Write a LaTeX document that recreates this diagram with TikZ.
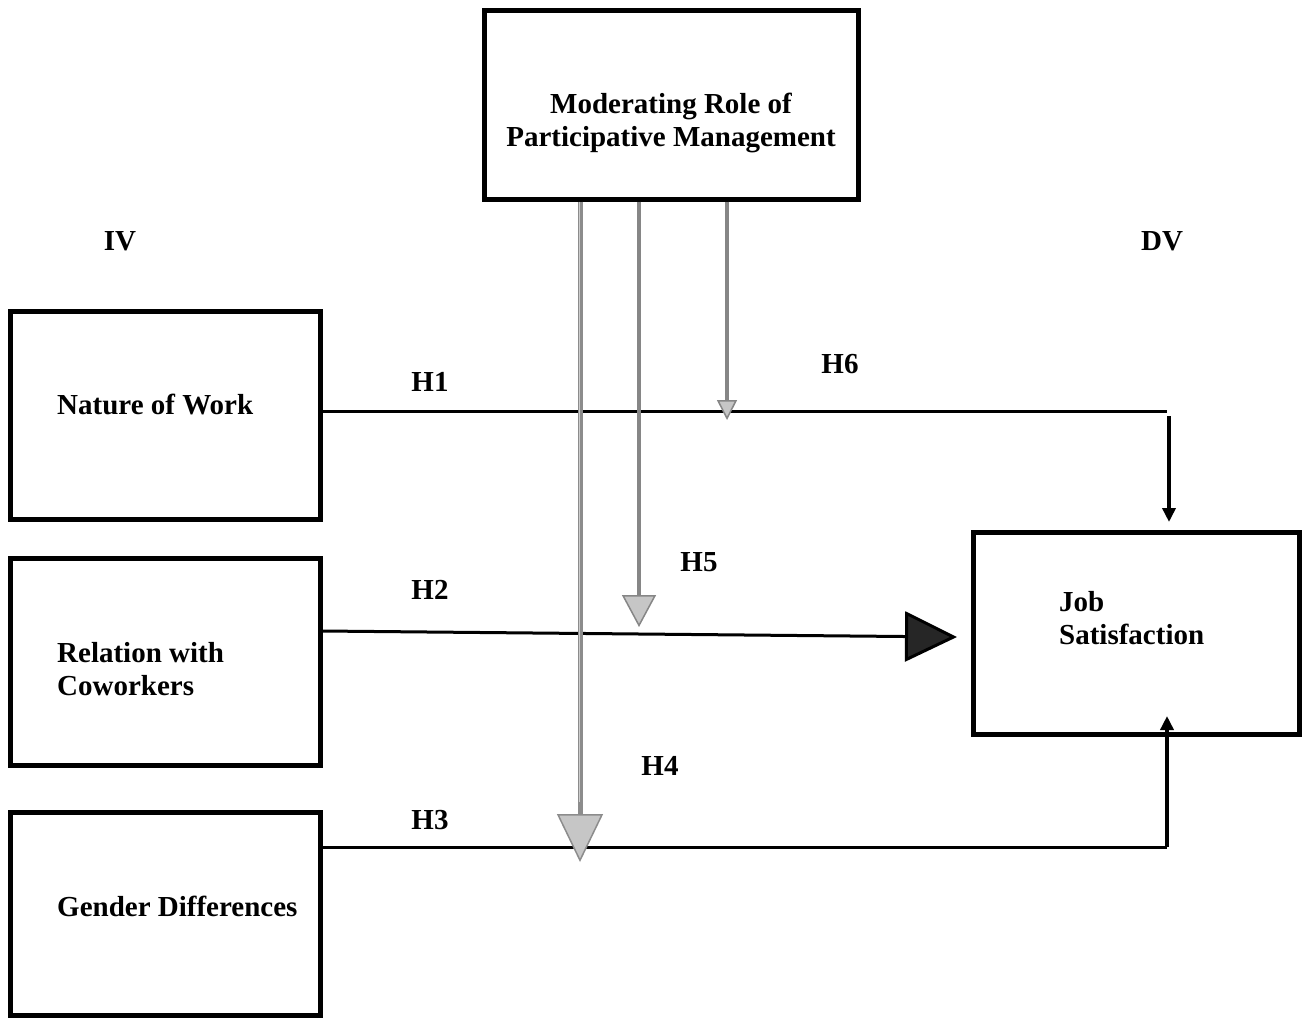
\documentclass[tikz,border=0pt]{standalone}
\usepackage{fontspec}
\setmainfont{Liberation Serif}
\usetikzlibrary{arrows.meta}
\begin{document}
\begin{tikzpicture}[x=1pt,y=-1pt,
  box/.style={draw=black,line width=5pt,inner sep=0pt},
  lbl/.style={font=\fontsize{29}{33}\selectfont\bfseries,inner sep=0pt,align=left},
  hyp/.style={line width=3pt,draw=black},
  modarrow/.style={draw=gray!110!black!60,line width=4pt},
  ]
\useasboundingbox (0,0) rectangle (1303,1018);
% boxes
\node[box,minimum width=374pt,minimum height=189pt] (mod) at (671,104.5) {};
\node[box,minimum width=310pt,minimum height=208pt] (now) at (165,415) {};
\node[box,minimum width=310pt,minimum height=207pt] (rel) at (165,661.5) {};
\node[box,minimum width=310pt,minimum height=203pt] (gen) at (165,913.5) {};
\node[box,minimum width=326pt,minimum height=202pt] (job) at (1136.5,633) {};
% box texts
\node[lbl,align=center] (modt) at (671,123) {Moderating Role of\\Participative Management};
\node[lbl,anchor=west] (nowt) at (57,405) {Nature of Work};
\node[lbl,anchor=west] (relt) at (57,669) {Relation with\\Coworkers};
\node[lbl,anchor=west] (gent) at (57,906) {Gender Differences};
\node[lbl,anchor=west] (jobt) at (1059,618) {Job\\Satisfaction};
% IV / DV
\node[lbl] (iv) at (120,241) {IV};
\node[lbl] (dv) at (1162,241) {DV};
% hypothesis labels
\node[lbl] (h1) at (430,382) {H1};
\node[lbl] (h2) at (430,590) {H2};
\node[lbl] (h3) at (430,820) {H3};
\node[lbl] (h4) at (660,766) {H4};
\node[lbl] (h5) at (699,562) {H5};
\node[lbl] (h6) at (840,364) {H6};
% coordinates
\coordinate (c1) at (1167,411);
\coordinate (c3) at (1167,847);
\coordinate (t4) at (580,862);
\coordinate (t5) at (639,627);
\coordinate (t6) at (727,420);
% H1
\draw[hyp] (now.east |- 0,411) -- (c1);
\draw[line width=4.5pt,-{Triangle[length=14pt,width=13pt]}] (1169,416) -- (1169,522);
% H2
\draw[hyp,-{Triangle[length=52pt,width=50pt,fill=black!85]}] (rel.east |- 0,631) -- (957,637);
% H3
\draw[hyp] (gen.east |- 0,847) -- (c3);
\draw[line width=4.5pt,-{Triangle[length=14pt,width=13pt]}] (c3) -- (1167,716);
% moderating arrows
\draw[draw=gray!90,line width=5pt,-{Triangle[length=48pt,width=46pt,fill=gray!45,line width=1.5pt]}] (mod.south -| t4) -- (t4);
\draw[draw=gray!40,line width=1pt] (mod.south -| t4) ++(-0.5,0) -- ++(0,600);
\draw[draw=gray!95,line width=3.5pt,-{Triangle[length=32pt,width=34pt,fill=gray!45,line width=1.5pt]}] (mod.south -| t5) -- (t5);
\draw[draw=gray!95,line width=3.5pt,-{Triangle[length=20pt,width=20pt,fill=gray!45,line width=1.5pt]}] (mod.south -| t6) -- (t6);
\end{tikzpicture}
\end{document}
